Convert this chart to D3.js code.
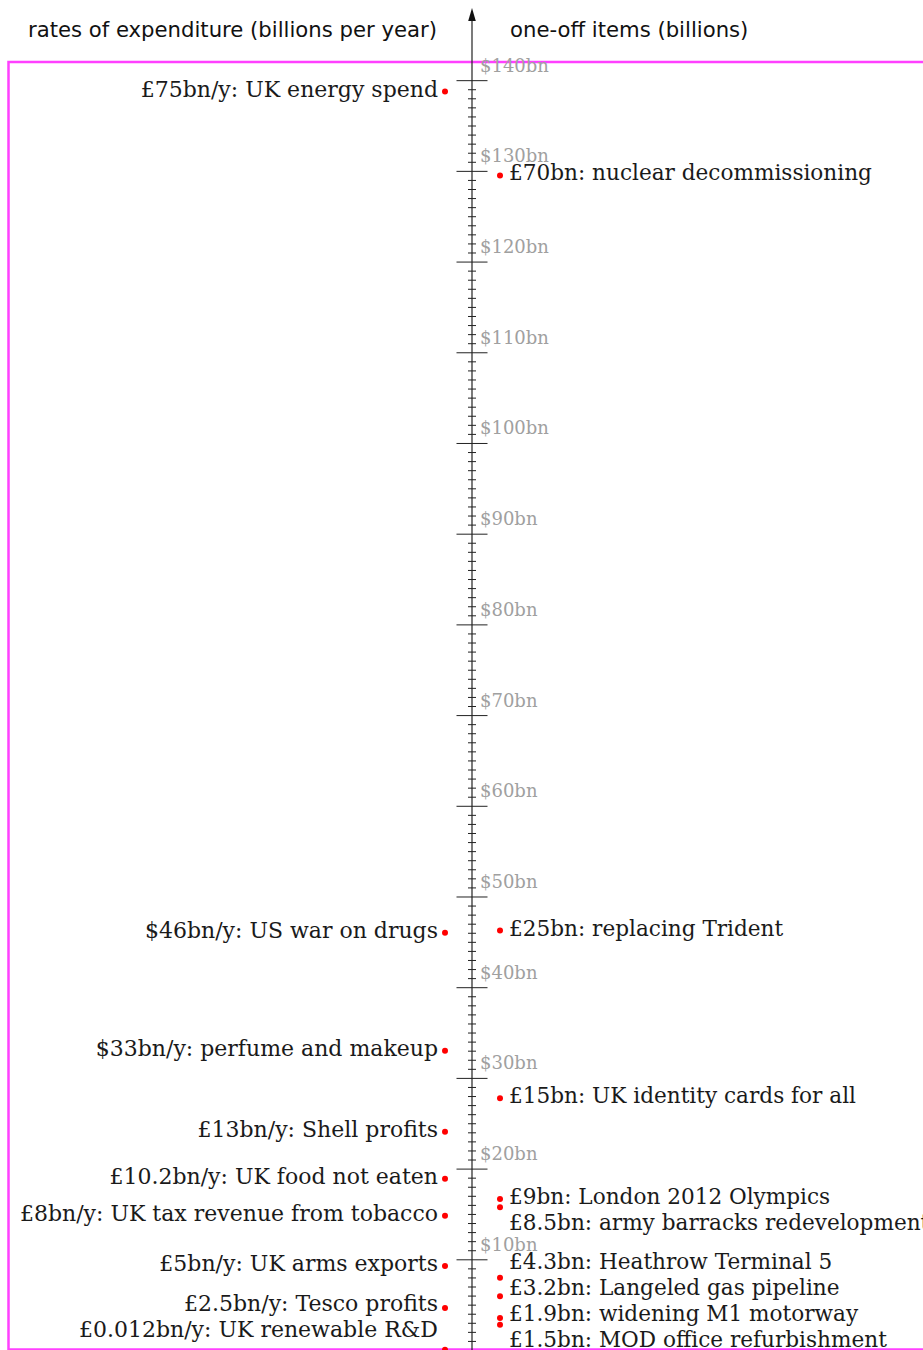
<!DOCTYPE html>
<html>
<head>
<meta charset="utf-8">
<script src="https://cdn.jsdelivr.net/npm/d3@7"></script>
<style>
  html, body { margin: 0; padding: 0; background: #fff; }
  svg { display: block; }
</style>
</head>
<body>
<script>
// ---- data ----
const leftNames = ["UK energy spend", "US war on drugs", "perfume and makeup", "Shell profits",
  "UK food not eaten", "UK tax revenue from tobacco", "UK arms exports", "Tesco profits", "UK renewable R&D"];
const leftAmounts = [75, 46, 33, 13, 10.2, 8, 5, 2.5, 0.012];
const leftCurrency = ["£", "$", "$", "£", "£", "£", "£", "£", "£"];

const rightNames = ["nuclear decommissioning", "replacing Trident", "UK identity cards for all",
  "London 2012 Olympics", "army barracks redevelopment", "Heathrow Terminal 5",
  "Langeled gas pipeline", "widening M1 motorway", "MOD office refurbishment"];
const rightAmounts = [70, 25, 15, 9, 8.5, 4.3, 3.2, 1.9, 1.5];

const dollarTicks = [10, 20, 30, 40, 50, 60, 70, 80, 90, 100, 110, 120, 130, 140];
const usdPerGbp = 1.85;
const leftTitle = "rates of expenditure (billions per year)";
const rightTitle = "one-off items (billions)";

// ---- layout ----
const W = 923, H = 1350;
const axisX = 472;
const svg = d3.select("body").append("svg").attr("width", W).attr("height", H);

const y = d3.scaleLinear().domain([0, 80]).range([1350, 7.6]);           // £bn
const yUsd = d3.scaleLinear().domain([0, 80 * usdPerGbp]).range([1350, 7.6]); // $bn

// magenta frame
svg.append("rect")
  .attr("x", 8.5).attr("y", 62).attr("width", 940).attr("height", 1287.5)
  .attr("fill", "none").attr("stroke", "#ff40ff").attr("stroke-width", 2.5);

// axis line + arrow
svg.append("line")
  .attr("x1", axisX).attr("x2", axisX).attr("y1", H + 5).attr("y2", 18)
  .attr("stroke", "#222").attr("stroke-width", 1.2);
svg.append("path")
  .attr("d", `M${axisX},8 L${axisX - 3.8},21 L${axisX + 3.8},21 Z`)
  .attr("fill", "#111");

// ticks via d3 axes (both sides)
const minorTicks = d3.range(0, 141).filter(v => v % 10 !== 0);
const majorTicks = [0].concat(dollarTicks);
function drawAxis(gen, vals, size) {
  const g = svg.append("g").attr("transform", `translate(${axisX},0)`)
    .call(gen(yUsd).tickValues(vals).tickSize(size).tickFormat(""));
  g.select(".domain").remove();
  g.selectAll(".tick line").attr("stroke", "#222").attr("stroke-width", 1);
}
drawAxis(d3.axisLeft, majorTicks, 15.5);
drawAxis(d3.axisRight, majorTicks, 15.5);
drawAxis(d3.axisLeft, minorTicks, 4);
drawAxis(d3.axisRight, minorTicks, 4);

// dollar tick labels (above each major tick)
svg.append("g").selectAll("text").data(dollarTicks).join("text")
  .attr("x", axisX + 8)
  .attr("y", d => yUsd(d) - 8.5)
  .attr("font-family", "DejaVu Serif")
  .attr("font-size", 18)
  .attr("fill", "#a0a0a0")
  .text(d => "$" + d + "bn");

// titles
svg.append("text").attr("x", 437).attr("y", 37).attr("text-anchor", "end")
  .attr("font-family", "DejaVu Sans").attr("font-size", 21.2).attr("fill", "#111")
  .text(leftTitle);
svg.append("text").attr("x", 510).attr("y", 37).attr("text-anchor", "start")
  .attr("font-family", "DejaVu Sans").attr("font-size", 21.2).attr("fill", "#111")
  .text(rightTitle);

// label placement (greedy down, then clamp & push up)
function place(ys, bottom, gap) {
  const p = ys.slice();
  for (let i = 1; i < p.length; i++) p[i] = Math.max(p[i], p[i - 1] + gap);
  p[p.length - 1] = Math.min(p[p.length - 1], bottom);
  for (let i = p.length - 2; i >= 0; i--) p[i] = Math.min(p[i], p[i + 1] - gap);
  return p;
}

const leftItems = leftNames.map((n, i) => ({
  name: n, amount: leftAmounts[i], cur: leftCurrency[i],
  gbp: leftCurrency[i] === "$" ? leftAmounts[i] / usdPerGbp : leftAmounts[i]
}));
leftItems.forEach(d => d.yy = y(d.gbp));
const lp = place(leftItems.map(d => d.yy), 1332, 26);
leftItems.forEach((d, i) => d.ly = lp[i]);

const rightItems = rightNames.map((n, i) => ({ name: n, amount: rightAmounts[i], gbp: rightAmounts[i] }));
rightItems.forEach(d => d.yy = y(d.gbp));
const rp = place(rightItems.map(d => d.yy), 1342, 26);
rightItems.forEach((d, i) => d.ly = rp[i]);

// left dots + labels
svg.append("g").selectAll("circle").data(leftItems).join("circle")
  .attr("cx", 445).attr("cy", d => d.yy).attr("r", 3).attr("fill", "#ff0000");
svg.append("g").selectAll("text").data(leftItems).join("text")
  .attr("x", 438).attr("y", d => d.ly + 5).attr("text-anchor", "end")
  .attr("font-family", "DejaVu Serif").attr("font-size", 22).attr("fill", "#1a1a1a")
  .text(d => d.cur + d.amount + "bn/y: " + d.name);

// right dots + labels
svg.append("g").selectAll("circle").data(rightItems).join("circle")
  .attr("cx", 500).attr("cy", d => d.yy).attr("r", 3).attr("fill", "#ff0000");
svg.append("g").selectAll("text").data(rightItems).join("text")
  .attr("x", 509).attr("y", d => d.ly + 5).attr("text-anchor", "start")
  .attr("font-family", "DejaVu Serif").attr("font-size", 21.6).attr("fill", "#1a1a1a")
  .text(d => "£" + d.amount + "bn: " + d.name);
</script>
</body>
</html>
